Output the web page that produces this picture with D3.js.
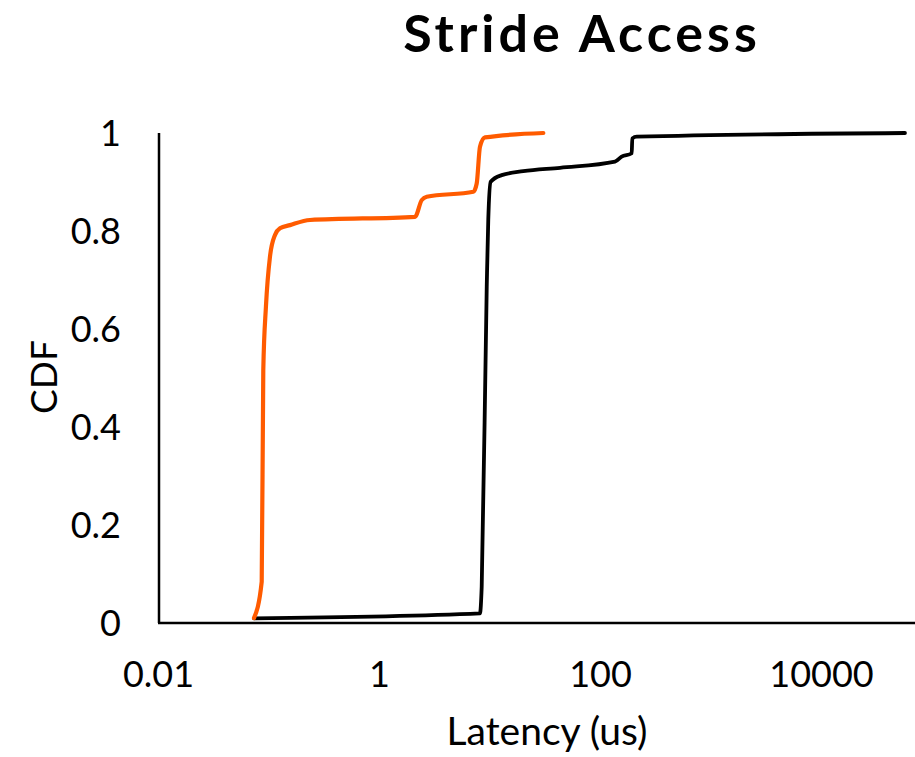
<!DOCTYPE html>
<html>
<head>
<meta charset="utf-8">
<script src="https://cdn.jsdelivr.net/npm/d3@7"></script>
<style>
  html, body { margin: 0; padding: 0; background: #fff; }
  svg { display: block; }
  text { font-family: Lato, "Open Sans", sans-serif; fill: #000; }
</style>
</head>
<body>
<svg id="chart" width="915" height="757"></svg>
<script>
// Latency CDF for stride access, two measured series
const orangeLatency = [0.0739, 0.0868, 0.0897, 0.0948, 0.1031, 0.1145, 0.127, 0.1565, 0.2375, 2.118, 2.435, 2.702, 7.14, 7.66, 8.2, 9.1, 30.7];
const orangeCdf     = [0.01, 0.084, 0.516, 0.6455, 0.7476, 0.792, 0.8055, 0.812, 0.8224, 0.829, 0.863, 0.87, 0.88, 0.897, 0.972, 0.991, 1.0];

const blackLatency = [0.0739, 8.2, 8.5, 9.44, 9.75, 10.25, 12.9, 20.2, 43.5, 136.7, 157, 193.6, 196, 215, 57540];
const blackCdf     = [0.0096, 0.0198, 0.074, 0.686, 0.824, 0.9006, 0.914, 0.922, 0.929, 0.9414, 0.9516, 0.9586, 0.989, 0.9925, 1.0];

const xTickValues = [0.01, 1, 100, 10000];
const xTickLabels = ["0.01", "1", "100", "10000"];
const yTickValues = [0, 0.2, 0.4, 0.6, 0.8, 1];
const yTickLabels = ["0", "0.2", "0.4", "0.6", "0.8", "1"];

const svg = d3.select("#chart");

const x = d3.scaleLog().domain([0.01, 100000]).range([158, 931.5]);
const y = d3.scaleLinear().domain([0, 1]).range([623, 133]);
const xLeft = 159, xRight = 915;

// axes: plain lines with text labels, no tick marks
const xAxis = d3.axisBottom(x)
  .tickValues(xTickValues)
  .tickFormat((d, i) => xTickLabels[i])
  .tickSize(0)
  .tickPadding(38);
const gx = svg.append("g").attr("transform", `translate(0,${y(0)})`).call(xAxis);
gx.select(".domain").remove();
gx.selectAll("text").attr("font-size", 36).style("font-family", "Lato, sans-serif");

const yAxis = d3.axisLeft(y)
  .tickValues(yTickValues)
  .tickFormat((d, i) => yTickLabels[i])
  .tickSize(0)
  .tickPadding(38);
const gy = svg.append("g").attr("transform", `translate(${xLeft},0)`).call(yAxis);
gy.select(".domain").remove();
gy.selectAll("text").attr("font-size", 36).attr("dy", "0.36em").style("font-family", "Lato, sans-serif");

svg.append("line")
  .attr("x1", xLeft).attr("x2", xLeft)
  .attr("y1", y(1)).attr("y2", y(0))
  .attr("stroke", "#000").attr("stroke-width", 2.5);
svg.append("line")
  .attr("x1", xLeft - 1).attr("x2", xRight)
  .attr("y1", y(0)).attr("y2", y(0))
  .attr("stroke", "#000").attr("stroke-width", 2.5);

// series lines
const line = d3.line()
  .x(d => x(d[0]))
  .y(d => y(d[1]))
  .curve(d3.curveMonotoneX);

const blackPts = blackLatency.map((v, i) => [v, blackCdf[i]]);
const orangePts = orangeLatency.map((v, i) => [v, orangeCdf[i]]);

svg.append("path")
  .datum(blackPts)
  .attr("d", line)
  .attr("fill", "none")
  .attr("stroke", "#000")
  .attr("stroke-width", 3.8)
  .attr("stroke-linejoin", "round")
  .attr("stroke-linecap", "round");

svg.append("path")
  .datum(orangePts)
  .attr("d", line)
  .attr("fill", "none")
  .attr("stroke", "#ff5b00")
  .attr("stroke-width", 4.2)
  .attr("stroke-linejoin", "round")
  .attr("stroke-linecap", "round");

// titles
svg.append("text")
  .attr("x", 582).attr("y", 52)
  .attr("text-anchor", "middle")
  .attr("font-size", 52)
  .attr("font-weight", 700)
  .attr("letter-spacing", 4)
  .text("Stride Access");

svg.append("text")
  .attr("x", 547).attr("y", 745)
  .attr("text-anchor", "middle")
  .attr("font-size", 39)
  .text("Latency (us)");

svg.append("text")
  .attr("transform", "translate(57,377) rotate(-90)")
  .attr("text-anchor", "middle")
  .attr("font-size", 37)
  .text("CDF");
</script>
</body>
</html>
